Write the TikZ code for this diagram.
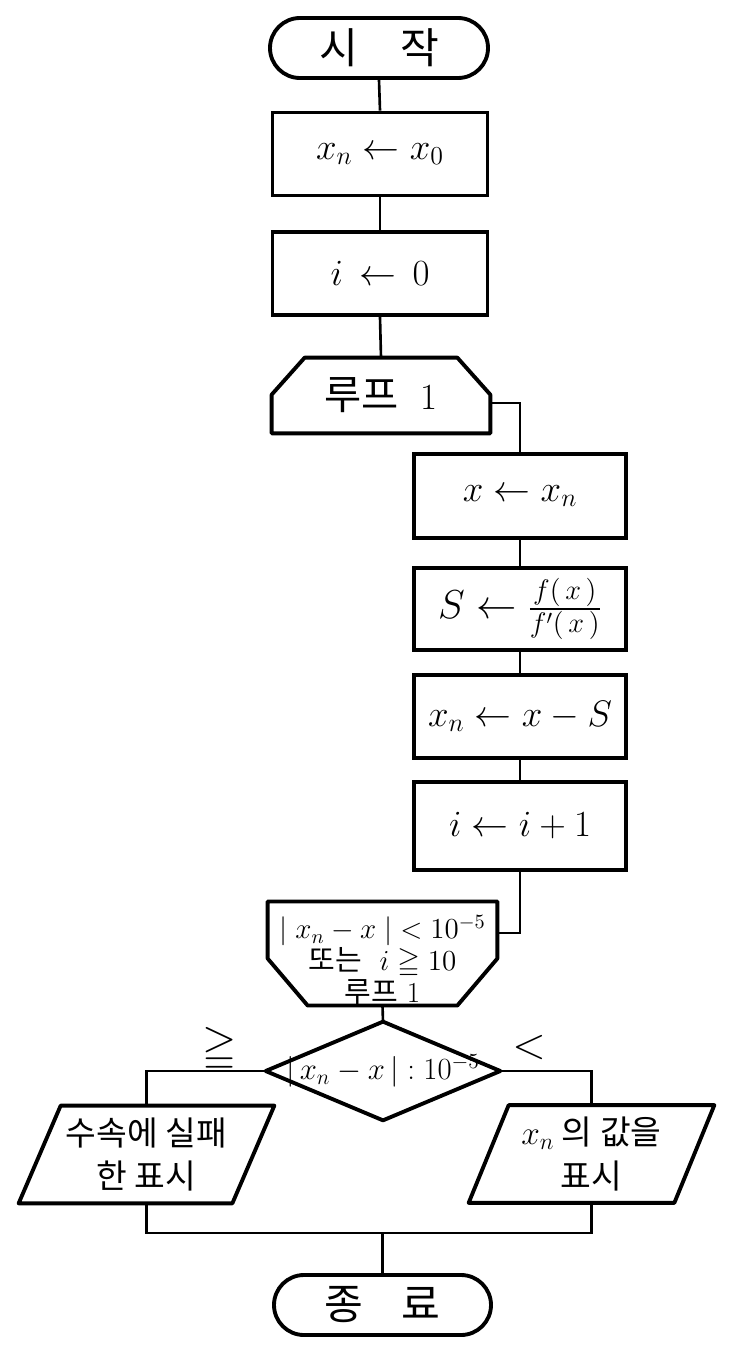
\RequirePackage{fix-cm}
\documentclass[tikz,border=0pt]{standalone}
\usepackage{amssymb}
\usepackage{fontspec}
\newfontfamily\kr{Noto Sans CJK KR}
\usetikzlibrary{calc}

\begin{document}
\begin{tikzpicture}[font=\fontsize{21}{25}\selectfont,
        ln/.style={line width=1.5pt},
        edge/.style={line width=2.2pt, line join=round},
        term/.style={rectangle, rounded corners=0.6cm, draw, line width=2.2pt, minimum width=4.36cm, minimum height=1.2cm,
                     font=\kr\fontsize{24}{28}\selectfont},
        proc/.style={rectangle, draw, line width=2.2pt, minimum width=4.3cm, minimum height=1.66cm},
        blank/.style={rectangle, inner sep=0pt, align=center}]
    \useasboundingbox (0,0) rectangle (14.6,-27.16);
    % main column
    \node[term] (start) at (7.58,-0.96) {시\hspace{1em}작};
    \node[proc] (init1) at (7.6,-3.08) {$x_n \leftarrow x_0$};
    \node[proc] (init2) at (7.6,-5.47) {$i \,\leftarrow\, 0$};
    \node[blank, minimum width=4.36cm, minimum height=1.5cm] (loop1) at (7.62,-7.91)
        {{\kr\fontsize{23}{25}\selectfont 루프}\hspace{0.6em}1};
    \draw[edge] ([xshift=0.66cm]loop1.north west) -- ([xshift=-0.66cm]loop1.north east) -- ([yshift=-0.74cm]loop1.north east)
        -- (loop1.south east) -- (loop1.south west) -- ([yshift=-0.74cm]loop1.north west) -- cycle;
    % loop body
    \node[proc, minimum width=4.24cm, minimum height=1.68cm] (newx) at (10.4,-9.92) {$x \leftarrow x_n$};
    \node[proc, minimum width=4.24cm, minimum height=1.64cm, font=\fontsize{23}{27}\selectfont] (ratio) at (10.4,-12.18)
        {$S \leftarrow \frac{f(\,x\,)}{f'(\,x\,)}$};
    \node[proc, minimum width=4.24cm, minimum height=1.66cm] (update) at (10.4,-14.33) {$x_n \leftarrow x - S$};
    \node[proc, minimum width=4.24cm, minimum height=1.76cm] (count) at (10.4,-16.52) {$i \leftarrow i + 1$};
    % loop end
    \node[blank, minimum width=4.58cm, minimum height=1.86cm, font=\fontsize{16.5}{14.8}\selectfont] (loop2) at (7.65,-19.07)
        {\rule{0pt}{21pt}$|\;x_n - x\;| < 10^{-5}$\\{\kr 또는}\ \ $i \geqq 10$\\{\kr 루프}\ 1};
    \draw[edge] (loop2.north west) -- (loop2.north east) -- ([yshift=0.94cm]loop2.south east) -- ([xshift=-0.8cm]loop2.south east)
        -- ([xshift=0.8cm]loop2.south west) -- ([yshift=0.94cm]loop2.south west) -- cycle;
    % decision
    \node[blank, minimum width=4.68cm, minimum height=1.96cm, font=\fontsize{17.5}{19}\selectfont] (dec) at (7.66,-21.42)
        {$\big|\,x_n - x\,\big| : 10^{-5}$};
    \draw[edge] (dec.north) -- (dec.east) -- (dec.south) -- (dec.west) -- cycle;
    \node[font=\fontsize{25}{27}\selectfont] (ge) at (4.4,-21.0) {$\geqq$};
    \node[font=\fontsize{25}{27}\selectfont] (lt) at (10.58,-20.96) {$<$};
    % output
    \node[blank, minimum width=4.26cm, minimum height=1.94cm, font=\kr\fontsize{19}{25}\selectfont] (fail) at (2.93,-23.09)
        {수속에 실패\\한 표시};
    \draw[edge] ([xshift=0.42cm]fail.north west) -- ([xshift=0.42cm]fail.north east) -- ([xshift=-0.42cm]fail.south east)
        -- ([xshift=-0.42cm]fail.south west) -- cycle;
    \node[blank, minimum width=4.1cm, minimum height=1.94cm, font=\kr\fontsize{19}{25}\selectfont] (value) at (11.83,-23.08)
        {$x_n$ 의 값을\\표시};
    \draw[edge] ([xshift=0.4cm]value.north west) -- ([xshift=0.4cm]value.north east) -- ([xshift=-0.4cm]value.south east)
        -- ([xshift=-0.4cm]value.south west) -- cycle;
    \node[term, minimum width=4.34cm] (end) at (7.65,-26.1) {종\hspace{0.9em}료};
    \coordinate (jn) at (7.65,-24.66);
    % connectors
    \draw[ln] (start.south) -- (init1.north);
    \draw[ln] (init1.south) -- (init2.north);
    \draw[ln] (init2.south) -- (loop1.north);
    \draw[ln] ([yshift=-0.15cm]loop1.east) -| (newx.north);
    \draw[ln] (newx.south) -- (ratio.north);
    \draw[ln] (ratio.south) -- (update.north);
    \draw[ln] (update.south) -- (count.north);
    \draw[ln] (count.south) |- ([yshift=0.41cm]loop2.east);
    \draw[ln] (loop2.south) -- (dec.north);
    \draw[ln] (dec.west) -| (fail.north);
    \draw[ln] (dec.east) -| (value.north);
    \draw[ln] (fail.south) |- (jn) -| (value.south);
    \draw[ln] (jn) -- (end.north);
\end{tikzpicture}
\end{document}
